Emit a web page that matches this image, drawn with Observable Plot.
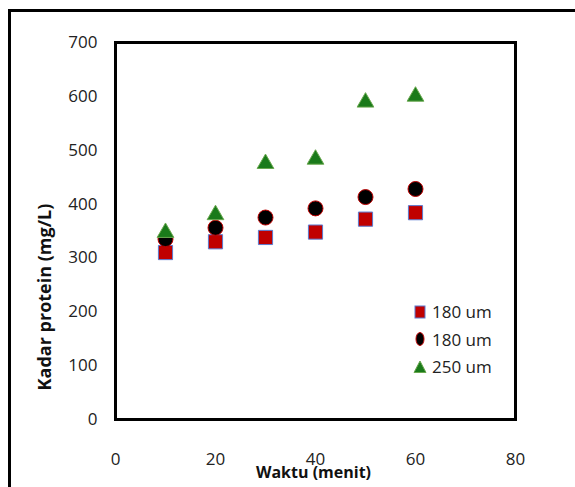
<!DOCTYPE html>
<html><head><meta charset="utf-8">
<script src="https://cdn.jsdelivr.net/npm/d3@7"></script>
<script src="https://cdn.jsdelivr.net/npm/@observablehq/plot@0.6"></script>
<style>
html,body{margin:0;padding:0;background:#fff;}
#wrap{position:relative;width:575px;height:487px;overflow:hidden;font-family:"Open Sans",sans-serif;}
#outer{position:absolute;left:8px;top:9px;width:600px;height:500px;border-left:3px solid #000;border-top:3px solid #000;}
#chart{position:absolute;left:0;top:0;}
#legend{position:absolute;left:411px;top:298px;font-size:17px;color:#222;line-height:27.5px;}
#legend div{display:flex;align-items:center;height:27.5px;}
#legend svg{width:18px;height:18px;margin-right:3px;}
</style></head>
<body><div id="wrap"><div id="outer"></div><div id="chart"></div><div id="legend"></div></div>
<script>
const waktu = [10, 20, 30, 40, 50, 60];
const s180a = [310, 330, 338, 348, 372, 384];
const s180b = [335, 356, 375, 392, 413, 428];
const s250  = [347, 380, 475, 483, 589, 600];
const seriesNames = ["180 um", "180 um", "250 um"];
const xTicks = [0, 20, 40, 60, 80];
const yTicks = [0, 100, 200, 300, 400, 500, 600, 700];
const xTitle = "Waktu (menit)";
const yTitle = "Kadar protein (mg/L)";

const styles = [
  {symbol: "square", r: 8, fill: "#c00000", stroke: "#5b7bd0", strokeWidth: 1},
  {symbol: "circle", r: 7.5, fill: "#000000", stroke: "#c00000", strokeWidth: 1},
  {symbol: "triangle", r: 6.2, fill: "#1a7a1a", stroke: "#6aa84f", strokeWidth: 1}
];
const sets = [s180a, s180b, s250];
const rows = (vals) => waktu.map((w, i) => ({w, v: vals[i]}));

const chart = Plot.plot({
  width: 575, height: 487,
  marginLeft: 115, marginRight: 60, marginTop: 42, marginBottom: 68,
  style: {fontFamily: "Open Sans, sans-serif", fontSize: "17px", color: "#222", background: "transparent"},
  x: {domain: [0, 80], ticks: xTicks, tickSize: 0, tickPadding: 33, label: null},
  y: {domain: [0, 700], ticks: yTicks, tickSize: 0, tickPadding: 18, label: null},
  marks: [
    Plot.frame({stroke: "#000", strokeWidth: 3}),
    ...sets.map((s, k) => Plot.dot(rows(s), {x: "w", y: "v", ...styles[k]})),
    Plot.text([xTitle], {text: d => d, frameAnchor: "bottom", textAnchor: "middle", dx: -2, dy: 58, fontWeight: "bold", fontSize: 16, fill: "#111"}),
    Plot.text([yTitle], {text: d => d, frameAnchor: "left", textAnchor: "middle", rotate: -90, dx: -70, dy: 66, fontWeight: "bold", fontSize: 18, fill: "#111"})
  ]
});
document.getElementById("chart").appendChild(chart);

const leg = d3.select("#legend");
const legSyms = [
  (g) => g.append("rect").attr("x", -5).attr("y", -6).attr("width", 10).attr("height", 12),
  (g) => g.append("ellipse").attr("rx", 4).attr("ry", 6.5),
  (g) => g.append("path").attr("d", "M0,-6L6,5.5L-6,5.5Z")
];
seriesNames.forEach((name, k) => {
  const st = styles[k];
  const row = leg.append("div");
  const svg = row.append("svg").attr("viewBox", "-9 -9 18 18");
  legSyms[k](svg).attr("fill", st.fill).attr("stroke", st.stroke).attr("stroke-width", 1);
  row.append("span").text(name);
});
</script></body></html>
